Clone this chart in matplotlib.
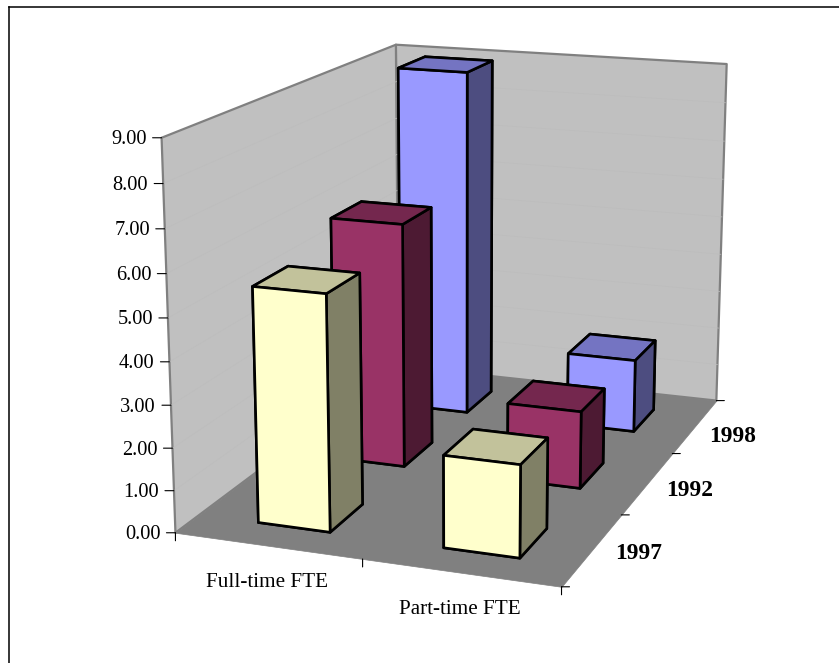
import numpy as np
import matplotlib
matplotlib.use('Agg')
import matplotlib.pyplot as plt
from matplotlib.lines import Line2D
from mpl_toolkits.mplot3d import proj3d
from mpl_toolkits.mplot3d.art3d import Poly3DCollection

categories = ['Full-time FTE', 'Part-time FTE']
years = ['1997', '1992', '1998']
full_time = [5.54, 6.04, 8.95]
part_time = [2.15, 1.90, 1.88]
y_ticks = [0, 1, 2, 3, 4, 5, 6, 7, 8, 9]

# front, top and side face colours for each year
face_colors = {
    '1997': ('#FFFFCC', '#C2C29B', '#808066'),
    '1992': ('#993366', '#74274E', '#4D1A33'),
    '1998': ('#9999FF', '#7474C2', '#4D4D80'),
}

W, H = 839, 663
plt.rcParams['font.family'] = ['Liberation Serif', 'DejaVu Serif']

fig = plt.figure(figsize=(W / 100, H / 100), dpi=100)
# only the top and left of the frame are in the picture
fig.add_artist(Line2D([8.5 / W, 1], [1 - 7.3 / H, 1 - 7.3 / H], transform=fig.transFigure,
                      color='black', linewidth=1.1))
fig.add_artist(Line2D([8.5 / W, 8.5 / W], [1 - 7.3 / H, 0], transform=fig.transFigure,
                      color='black', linewidth=1.1))

# camera fitted to the corners of the chart box
ax = fig.add_axes([0, 0, 1, 1], projection='3d', computed_zorder=False)
ax.set_xlim(0, 2)
ax.set_ylim(0, 3)
ax.set_zlim(0, 9)
ax.view_init(elev=15.0124, azim=-70.0638, roll=-0.0482)
ax.set_proj_type('persp', focal_length=0.5532)
ax.set_box_aspect((1.0072, 1.5005, 1.0))
ax.set_axis_off()
ax.patch.set_alpha(0)

# put the axes so one view unit is 4076.5 px with the origin at (468.8, 283.3)
scale, ox, oy = 4076.51, 468.80, 283.31
p0 = ax.transLimits.transform((0, 0))
p1 = ax.transLimits.transform((1, 1))
wpx = scale / (p1[0] - p0[0])
hpx = scale / (p1[1] - p0[1])
ax.set_position([(ox - p0[0] * wpx) / W, (H - oy - p0[1] * hpx) / H, wpx / W, hpx / H])

# walls and floor
left_wall = [(0, 0, 0), (0, 3, 0), (0, 3, 9), (0, 0, 9)]
back_wall = [(0, 3, 0), (2, 3, 0), (2, 3, 9), (0, 3, 9)]
floor = [(0, 0, 0), (2, 0, 0), (2, 3, 0), (0, 3, 0)]
ax.add_collection3d(Poly3DCollection([floor], facecolors='#808080', edgecolors='#808080',
                                     linewidths=0.5, zorder=1))
ax.add_collection3d(Poly3DCollection([left_wall, back_wall], facecolors='#C0C0C0', edgecolors='#808080',
                                     linewidths=1.6, zorder=2))
# the gridlines are barely there in the original
for v in y_ticks[1:-1]:
    ax.plot([0, 0, 2], [0, 3, 3], [v, v, v], color='#BDBDBD', linewidth=0.5, zorder=3)

# small per-bar nudges, the original perspective is not quite a true camera
row_front = [0.27, 1.30, 2.29]
bar_left = [[0.325, 0.30, 0.295], [0.315, 0.29, 0.31]]
bar_width = [[0.39, 0.405, 0.41], [0.39, 0.40, 0.39]]

# back row first so the front bars paint over it
z = 10
for j in [2, 1, 0]:
    front, top, side = face_colors[years[j]]
    for i, vals in enumerate([full_time, part_time]):
        # face order in bar3d: bottom, top, front, back, left, right
        ax.bar3d(i + bar_left[i][j], row_front[j], 0, bar_width[i][j], 0.42, vals[j],
                 color=[front, top, front, front, side, side], shade=False,
                 edgecolor='black', linewidth=1.9, zorder=z)
        z += 1


def anchor(x, y, z3):
    vx, vy, _ = proj3d.proj_transform(np.array([x], float), np.array([y], float),
                                      np.array([z3], float), ax.get_proj())
    return vx[0], vy[0]


def tick(x, y, z3, dx, dy):
    ax.annotate('', xy=anchor(x, y, z3), xytext=(dx, dy), textcoords='offset pixels',
                arrowprops=dict(arrowstyle='-', color='black', linewidth=0.8, shrinkA=0, shrinkB=0))


def label(text, x, y, z3, dx, dy, ha='center', **kw):
    ax.annotate(text, xy=anchor(x, y, z3), xytext=(dx, dy), textcoords='offset pixels',
                ha=ha, va='center', color='black', **kw)


# value axis
for v in y_ticks:
    tick(0, 0, v, -9, 0)
    label('%.2f' % v, 0, 0, v, -15, -2, ha='right', fontsize=14.7)

# category axis
for x in range(3):
    tick(x, 0, 0, 0, -8)
for i, name in enumerate(categories):
    label(name, i + 0.5, 0, 0, -1, -37, fontsize=15.2)

# depth axis
for y in range(4):
    tick(2, y, 0, 8, 0)
label_dx = [46, 42, 37]
label_dy = [-4, -7, -10]
for j, name in enumerate(years):
    label(name, 2, j + 0.5, 0, label_dx[j], label_dy[j], fontsize=16.8, fontweight='bold')

fig.savefig('out.png', dpi=100)
